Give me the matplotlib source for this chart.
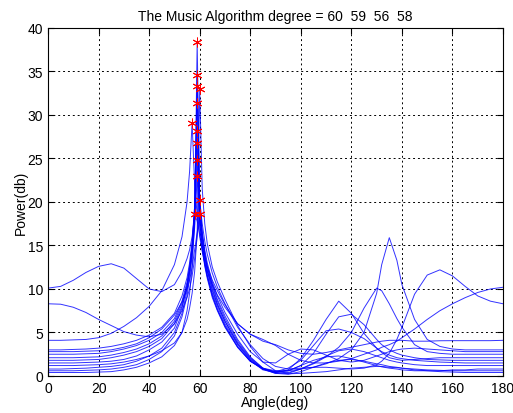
import numpy as np
import matplotlib
matplotlib.use("Agg")
import matplotlib.pyplot as plt

# angle grid (deg) shared by every trial of the spectrum
deg = [0, 5, 10, 15, 20, 25, 30, 35, 40, 45,
       50, 53, 55, 56, 57, 58, 59, 60, 61, 62, 63, 65, 67, 70,
       75, 80, 85, 90, 95, 100, 105, 110, 115, 120, 125, 130, 132, 135, 138, 140,
       145, 150, 155, 160, 165, 170, 175, 180]

# power (db), one list per trial
p01 = [0.4, 0.4, 0.4, 0.4, 0.45, 0.5, 0.7, 1.0, 1.5, 2.2,
       3.5, 5.0, 7.5, 9.5, 12.5, 17.5, 38.4, 20.5, 16.5, 14.2, 12.6, 10.3, 8.6, 6.6,
       4.0, 2.1, 0.9, 0.4, 0.25, 0.3, 0.4, 0.5, 0.7, 0.9, 1.0, 1.1, 1.1, 1.0, 0.95, 0.9,
       0.7, 0.6, 0.5, 0.45, 0.4, 0.4, 0.4, 0.4]
p02 = [0.6, 0.6, 0.6, 0.65, 0.7, 0.8, 1.0, 1.3, 1.9, 2.8,
       4.6, 6.8, 9.2, 11.2, 13.8, 18.3, 34.6, 20.0, 16.0, 13.8, 12.2, 10.0, 8.3, 6.3,
       3.7, 1.9, 0.8, 0.3, 0.2, 0.5, 1.0, 1.5, 1.8, 1.9, 1.7, 1.4, 1.3, 1.1, 1.0, 0.9,
       0.8, 0.7, 0.65, 0.6, 0.6, 0.6, 0.6, 0.6]
p03 = [0.8, 0.8, 0.85, 0.9, 1.0, 1.1, 1.3, 1.7, 2.3, 3.2,
       5.0, 7.2, 9.8, 11.8, 14.3, 19.0, 33.3, 19.8, 16.0, 14.0, 12.5, 10.5, 8.8, 6.9,
       4.2, 2.2, 0.9, 0.4, 0.6, 1.2, 1.8, 2.2, 2.3, 2.0, 1.6, 1.2, 1.05, 0.9, 0.8, 0.7,
       0.6, 0.6, 0.6, 0.7, 0.7, 0.8, 0.8, 0.8]
p04 = [1.2, 1.2, 1.2, 1.25, 1.3, 1.4, 1.6, 1.9, 2.3, 2.9,
       3.8, 5.0, 6.5, 7.8, 9.5, 12.0, 16.5, 33.0, 21.5, 17.5, 15.2, 12.5, 10.8, 8.8,
       5.8, 3.4, 1.6, 0.6, 0.3, 0.8, 1.5, 2.3, 2.9, 3.1, 2.8, 2.3, 2.1, 1.8, 1.6, 1.5,
       1.3, 1.2, 1.2, 1.2, 1.2, 1.2, 1.2, 1.2]
p05 = [1.5, 1.5, 1.5, 1.55, 1.6, 1.7, 1.9, 2.3, 3.0, 3.9,
       5.5, 7.8, 10.3, 12.3, 14.8, 19.5, 31.4, 19.0, 15.2, 13.0, 11.5, 9.3, 7.7, 5.8,
       3.4, 1.7, 0.8, 0.5, 0.9, 1.8, 3.5, 5.2, 5.4, 5.0, 4.3, 3.2, 2.8, 2.4, 2.1, 2.0,
       1.8, 1.7, 1.6, 1.55, 1.5, 1.5, 1.5, 1.5]
p06 = [4.1, 4.1, 4.15, 4.2, 4.4, 4.9, 5.7, 6.7, 8.0, 9.8,
       12.8, 16.0, 20.0, 23.5, 29.1, 22.0, 18.5, 16.0, 14.3, 13.0, 12.0, 10.5, 9.3, 7.9,
       6.0, 4.8, 4.0, 3.6, 3.0, 2.6, 2.5, 2.7, 3.0, 3.3, 3.6, 3.9, 4.0, 4.1, 4.1, 4.1,
       4.0, 4.0, 4.05, 4.06, 4.06, 4.06, 4.06, 4.1]
p07 = [10.1, 10.3, 11.0, 11.9, 12.6, 12.9, 12.4, 11.2, 10.0, 9.7,
       10.5, 12.0, 13.5, 14.5, 16.0, 18.6, 17.8, 16.3, 14.8, 13.6, 12.6, 11.0, 9.8, 8.2,
       6.0, 4.8, 4.2, 3.5, 2.5, 1.8, 1.5, 1.5, 1.7, 2.0, 2.5, 3.0, 3.3, 3.6, 4.0, 4.4,
       5.4, 6.5, 7.5, 8.3, 9.0, 9.6, 10.0, 10.2]
p08 = [8.3, 8.25, 7.9, 7.3, 6.5, 5.8, 5.1, 4.7, 4.5, 4.8,
       6.0, 7.5, 9.0, 10.0, 11.5, 13.5, 16.0, 20.2, 17.5, 15.5, 14.0, 11.8, 10.2, 8.3,
       5.6, 3.6, 2.0, 1.1, 0.8, 0.9, 1.0, 1.0, 0.9, 0.8, 0.9, 1.3, 1.7, 2.6, 4.2, 5.6,
       9.4, 11.6, 12.2, 11.5, 10.3, 9.2, 8.6, 8.3]
p09 = [3.0, 3.0, 3.05, 3.1, 3.2, 3.4, 3.7, 4.1, 4.7, 5.6,
       7.2, 9.2, 11.3, 13.0, 15.5, 19.5, 28.2, 18.0, 14.8, 12.8, 11.4, 9.2, 7.6, 5.7,
       3.3, 1.7, 0.9, 0.6, 0.6, 0.8, 1.0, 1.4, 2.0, 3.0, 5.0, 9.5, 12.8, 15.9, 13.3, 10.5,
       6.5, 4.2, 3.4, 3.1, 3.0, 3.0, 3.0, 3.0]
p10 = [2.5, 2.5, 2.5, 2.55, 2.6, 2.8, 3.1, 3.5, 4.1, 5.0,
       6.6, 8.6, 10.8, 12.6, 15.0, 19.0, 26.8, 18.5, 15.5, 13.5, 12.0, 9.8, 8.2, 6.3,
       3.8, 2.0, 0.8, 0.3, 0.4, 0.8, 1.4, 2.2, 3.3, 5.0, 7.8, 10.1, 9.8, 8.3, 6.6, 5.6,
       3.6, 2.8, 2.6, 2.5, 2.5, 2.5, 2.5, 2.5]
p11 = [2.1, 2.1, 2.1, 2.15, 2.2, 2.4, 2.7, 3.1, 3.7, 4.6,
       6.3, 8.3, 10.5, 12.3, 14.5, 18.0, 24.8, 17.5, 15.0, 13.0, 11.6, 9.5, 8.0, 6.0,
       3.6, 1.8, 0.7, 0.4, 0.7, 2.0, 4.1, 6.5, 8.6, 7.2, 4.9, 3.2, 2.7, 2.1, 1.9, 1.8,
       1.9, 2.0, 2.1, 2.1, 2.1, 2.1, 2.1, 2.1]
p12 = [1.8, 1.8, 1.8, 1.85, 1.9, 2.1, 2.4, 2.8, 3.4, 4.3,
       6.0, 8.0, 10.2, 12.0, 14.0, 17.0, 23.0, 17.0, 14.5, 12.6, 11.2, 9.0, 7.5, 5.6,
       3.3, 1.7, 0.8, 0.5, 0.6, 1.2, 2.6, 4.8, 6.8, 7.1, 5.9, 4.2, 3.6, 3.0, 2.6, 2.4,
       2.1, 1.9, 1.85, 1.8, 1.8, 1.8, 1.8, 1.8]
p13 = [2.8, 2.8, 2.8, 2.85, 2.9, 3.0, 3.3, 3.7, 4.4, 5.4,
       7.0, 8.5, 10.0, 11.0, 12.5, 14.5, 16.5, 18.6, 16.5, 14.5, 13.0, 10.8, 9.2, 7.3,
       4.8, 2.8, 1.6, 1.5, 2.5, 3.1, 3.0, 2.4, 1.8, 1.6, 1.8, 2.3, 2.5, 2.8, 3.0, 3.1,
       3.2, 3.1, 3.0, 2.9, 2.8, 2.8, 2.8, 2.8]

est = [60, 59, 56, 58]

trials = [p01, p02, p03, p04, p05, p06, p07, p08, p09, p10, p11, p12, p13]

plt.rcParams['font.family'] = ['Liberation Sans', 'DejaVu Sans']
fig = plt.figure(figsize=(5.13, 4.14), dpi=100)
ax = fig.add_axes([0.0936, 0.0894, 0.887, 0.8406])

x = np.array(deg)
for p in trials:
    y = np.array(p)
    ax.plot(x, y, color=(0, 0, 1), lw=0.7, alpha=0.8)
for p in trials:
    y = np.array(p)
    k = np.argmax(y)
    ax.plot(x[k], y[k], linestyle='none', marker=(6, 2, 0), color='r',
            markersize=7, markeredgewidth=0.7)

ax.set_xlim(0, 180)
ax.set_ylim(0, 40)
ax.set_xticks(np.arange(0, 181, 20))
ax.set_yticks(np.arange(0, 41, 5))
ax.grid(True, color='k', linestyle=(0, (2, 3)), linewidth=0.7)
ax.tick_params(direction='in', labelsize=10, length=4, top=True, right=True)
for s in ax.spines.values():
    s.set_linewidth(0.8)

ax.set_xlabel('Angle(deg)', fontsize=10, labelpad=0)
ax.set_ylabel('Power(db)', fontsize=10, labelpad=0)
ax.set_title('The Music Algorithm degree = ' + '  '.join(str(v) for v in est),
             fontsize=10, pad=6)

fig.savefig('out.png', dpi=100)
